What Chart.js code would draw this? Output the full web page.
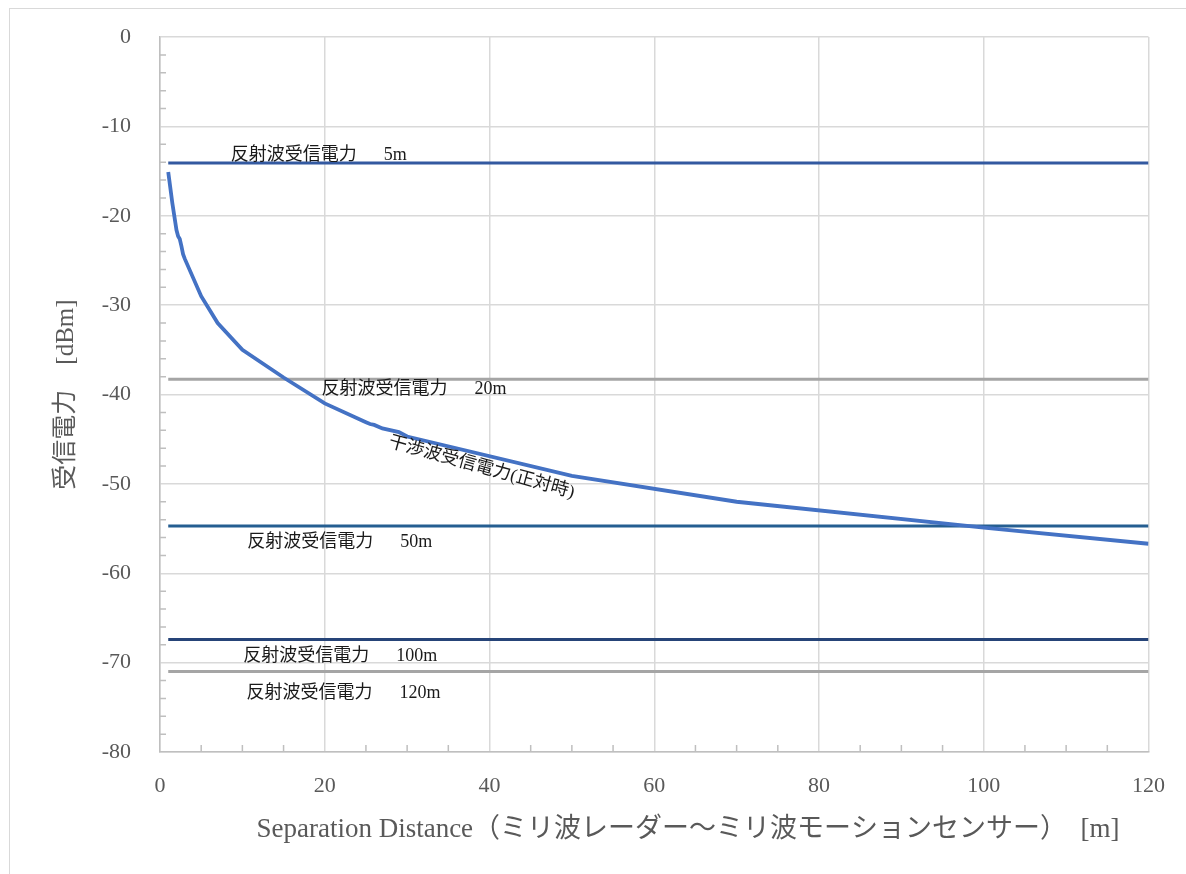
<!DOCTYPE html>
<html lang="ja">
<head>
    <meta charset="UTF-8">
    <title>受信電力 vs Separation Distance</title>
    <script src="https://cdn.jsdelivr.net/npm/chart.js"></script>
    <style>
        body { margin: 0; overflow: hidden; background: #fff; }
        .container { position: relative; width: 1186px; height: 874px; }
    </style>
</head>
<body>
    <div class="container">
        <canvas id="powerChart"></canvas>
    </div>

    <script>
        // 干渉波受信電力(正対時) : distance [m] / power [dBm]
        const distance = [1, 1.5, 2, 2.2, 2.4, 2.6, 2.8, 3, 5, 7, 10, 15, 20, 25, 25.5, 26, 27, 29, 30, 50, 70, 100, 120];
        const interferencePower = [-15.1, -18.6, -21.6, -22.3, -22.6, -23.4, -24.3, -24.8, -29, -32, -35, -38.1, -41, -43.1, -43.3, -43.4, -43.8, -44.2, -44.7, -49.1, -52, -54.9, -56.7];

        // 反射波受信電力 (constant lines)
        const reflectNames = ['5m', '20m', '50m', '100m', '120m'];
        const reflectPower = [-14.1, -38.3, -54.7, -67.4, -71.0];
        const reflectSpan = [1, 120];

        const xTicks = [0, 20, 40, 60, 80, 100, 120];
        const yTicks = [0, -10, -20, -30, -40, -50, -60, -70, -80];

        const reflectColors = ['#3359a0', '#a5a5a5', '#255e91', '#264478', '#a5a5a5'];
        // label anchors (data units)
        const reflectLabelAt = [[8.6, -13.2], [19.6, -39.4], [10.6, -56.5], [10.1, -69.3], [10.5, -73.4]];
        const curveLabelAt = [27.8, -45.3];

        const serif = '"Liberation Serif", "Noto Sans CJK JP", serif';

        const datasets = [{
            data: distance.map((d, i) => ({ x: d, y: interferencePower[i] })),
            borderColor: '#4472c4',
            borderWidth: 3.8,
            pointRadius: 0,
            showLine: true,
            tension: 0
        }];
        reflectNames.forEach((n, i) => {
            datasets.push({
                data: reflectSpan.map(x => ({ x: x, y: reflectPower[i] })),
                borderColor: reflectColors[i],
                borderWidth: 3,
                pointRadius: 0,
                showLine: true
            });
        });

        const decorations = {
            id: 'decorations',
            beforeDraw(chart) {
                const ctx = chart.ctx;
                ctx.save();
                ctx.strokeStyle = '#d9d9d9';
                ctx.lineWidth = 1;
                ctx.strokeRect(9.5, 8.5, 1300, 1000);
                ctx.restore();
            },
            beforeDatasetsDraw(chart) {
                const { ctx, scales: { x, y } } = chart;
                ctx.save();
                ctx.strokeStyle = '#bfbfbf';
                ctx.lineWidth = 1.5;
                ctx.beginPath();
                for (let v = -2; v > -80; v -= 2) {
                    if (v % 10 === 0) continue;
                    const py = y.getPixelForValue(v);
                    ctx.moveTo(x.left, py);
                    ctx.lineTo(x.left + 6, py);
                }
                for (let v = 5; v < 120; v += 5) {
                    if (v % 20 === 0) continue;
                    const px = x.getPixelForValue(v);
                    ctx.moveTo(px, y.bottom);
                    ctx.lineTo(px, y.bottom - 7);
                }
                ctx.stroke();
                ctx.restore();
            },
            afterDatasetsDraw(chart) {
                const { ctx, scales: { x, y } } = chart;
                ctx.save();
                ctx.fillStyle = '#1a1a1a';
                ctx.font = '18px ' + serif;
                ctx.textBaseline = 'middle';
                ctx.textAlign = 'left';
                reflectNames.forEach((n, i) => {
                    const [lx, ly] = reflectLabelAt[i];
                    ctx.fillText('反射波受信電力　  ' + n, x.getPixelForValue(lx), y.getPixelForValue(ly));
                });
                ctx.translate(x.getPixelForValue(curveLabelAt[0]), y.getPixelForValue(curveLabelAt[1]));
                ctx.rotate(15.5 * Math.PI / 180);
                ctx.fillText('干渉波受信電力(正対時)', 0, 0);
                ctx.restore();
            }
        };

        const ctx = document.getElementById('powerChart').getContext('2d');
        new Chart(ctx, {
            type: 'scatter',
            data: { datasets: datasets },
            plugins: [decorations],
            options: {
                responsive: true,
                maintainAspectRatio: false,
                animation: false,
                layout: { padding: { top: 37, right: 36, left: 0, bottom: 0 } },
                plugins: { legend: { display: false }, tooltip: { enabled: false } },
                scales: {
                    x: {
                        type: 'linear',
                        min: 0,
                        max: 120,
                        afterFit(s) { s.height = 122; },
                        afterBuildTicks(s) { s.ticks = xTicks.map(v => ({ value: v })); },
                        grid: { color: '#d9d9d9', lineWidth: 1.5, drawTicks: false },
                        border: { color: '#bfbfbf', width: 1.5 },
                        ticks: { color: '#595959', font: { family: serif, size: 22 }, padding: 21, maxRotation: 0 },
                        title: {
                            display: true,
                            text: '　　  Separation Distance（ミリ波レーダー〜ミリ波モーションセンサー）　[m]',
                            color: '#595959',
                            font: { family: serif, size: 27 },
                            padding: { top: 0, bottom: 28 }
                        }
                    },
                    y: {
                        type: 'linear',
                        min: -80,
                        max: 0,
                        afterFit(s) { s.width = 160; s.paddingTop = 0; s.paddingBottom = 0; },
                        afterBuildTicks(s) { s.ticks = yTicks.map(v => ({ value: v })); },
                        grid: { color: '#d9d9d9', lineWidth: 1.5, drawTicks: false },
                        border: { color: '#bfbfbf', width: 1.5 },
                        ticks: { color: '#595959', font: { family: serif, size: 22 }, padding: 29 },
                        title: {
                            display: true,
                            text: '受信電力　[dBm]',
                            color: '#595959',
                            font: { family: serif, size: 25 },
                            padding: { top: 51, bottom: 0 }
                        }
                    }
                }
            }
        });
    </script>
</body>
</html>
